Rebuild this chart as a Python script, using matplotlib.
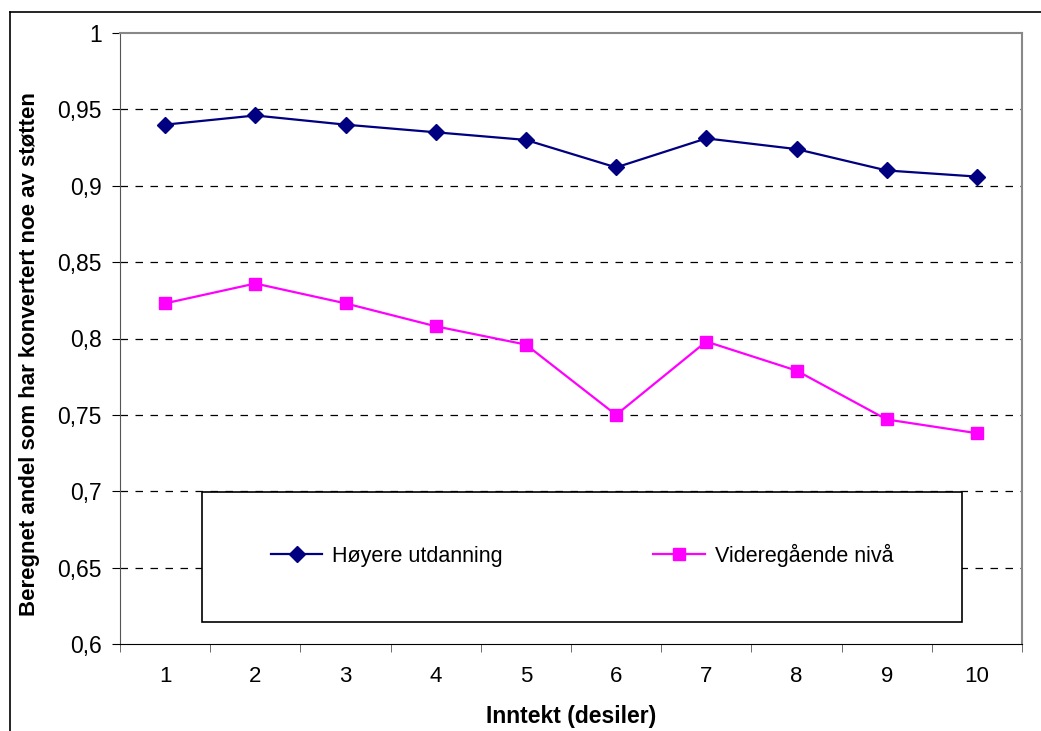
import numpy as np
import matplotlib.pyplot as plt
from matplotlib.lines import Line2D
from matplotlib.patches import Rectangle

plt.rcParams['font.family'] = ['Liberation Sans', 'DejaVu Sans']

deciles = [1, 2, 3, 4, 5, 6, 7, 8, 9, 10]
hoyere = [0.940, 0.946, 0.940, 0.935, 0.930, 0.912, 0.931, 0.924, 0.910, 0.906]
videregaende = [0.823, 0.836, 0.823, 0.808, 0.796, 0.750, 0.798, 0.779, 0.747, 0.738]
yticks = [0.6, 0.65, 0.7, 0.75, 0.8, 0.85, 0.9, 0.95, 1.0]
ytick_labels = ['0,6', '0,65', '0,7', '0,75', '0,8', '0,85', '0,9', '0,95', '1']

fig = plt.figure(figsize=(10.41, 7.31), dpi=100)
ax = fig.add_axes([120/1041, 1 - 644/731, 902/1041, 611/731])

ax.plot(deciles, hoyere, color='#000080', marker='D', markersize=8.5, linewidth=1.6,
        label='Høyere utdanning')
ax.plot(deciles, videregaende, color='#FF00FF', marker='s', markersize=8, linewidth=1.6,
        label='Videregående nivå')

ax.set_xlim(0.5, 10.5)
ax.set_ylim(0.6, 1.0)
ax.set_yticks(yticks)
ax.set_yticklabels(ytick_labels, fontsize=16.5)
ax.set_xticks(deciles)
ax.set_xticklabels([str(d) for d in deciles], fontsize=16)
ax.set_xticks(np.arange(0.5, 11, 1), minor=True)
ax.tick_params(axis='x', which='major', length=0, pad=16)
ax.tick_params(axis='x', which='minor', length=6, direction='out', color='#555555')
ax.tick_params(axis='y', length=6, direction='out', pad=7)

for y in yticks[1:-1]:
    ax.axhline(y, color='black', linestyle=(0, (6, 6)), linewidth=0.9, zorder=0)

for side in ['top', 'right']:
    ax.spines[side].set_color('#888888')
    ax.spines[side].set_linewidth(1.5)
ax.spines['left'].set_color('#555555')
ax.spines['bottom'].set_color('black')

ax.set_xlabel('Inntekt (desiler)', fontsize=16.5, fontweight='bold', va='center')
ax.xaxis.set_label_coords(0.5, -(716 - 644) / 611)
ax.set_ylabel('Beregnet andel som har konvertert noe av støtten', fontsize=16,
              fontweight='bold', va='center')
ax.yaxis.set_label_coords((30 - 120) / 902, (644 - 354) / 611)

ax.add_patch(Rectangle((82/902, 22/611), 760/902, 130/611, transform=ax.transAxes,
                       facecolor='white', edgecolor='black', linewidth=1.2, zorder=3))
leg = ax.legend(loc='center', bbox_to_anchor=(82/902, 24/611, 760/902, 130/611),
                ncol=2, fontsize=15.5, frameon=False, handlelength=2.4,
                handletextpad=0.45, columnspacing=7.0)
leg.set_zorder(4)

fig.add_artist(Line2D([10/1041, 10/1041], [0, 1 - 12/731], color='black', linewidth=1.2))
fig.add_artist(Line2D([10/1041, 1], [1 - 12/731, 1 - 12/731], color='black', linewidth=1.2))

fig.savefig('out.png', dpi=100)
